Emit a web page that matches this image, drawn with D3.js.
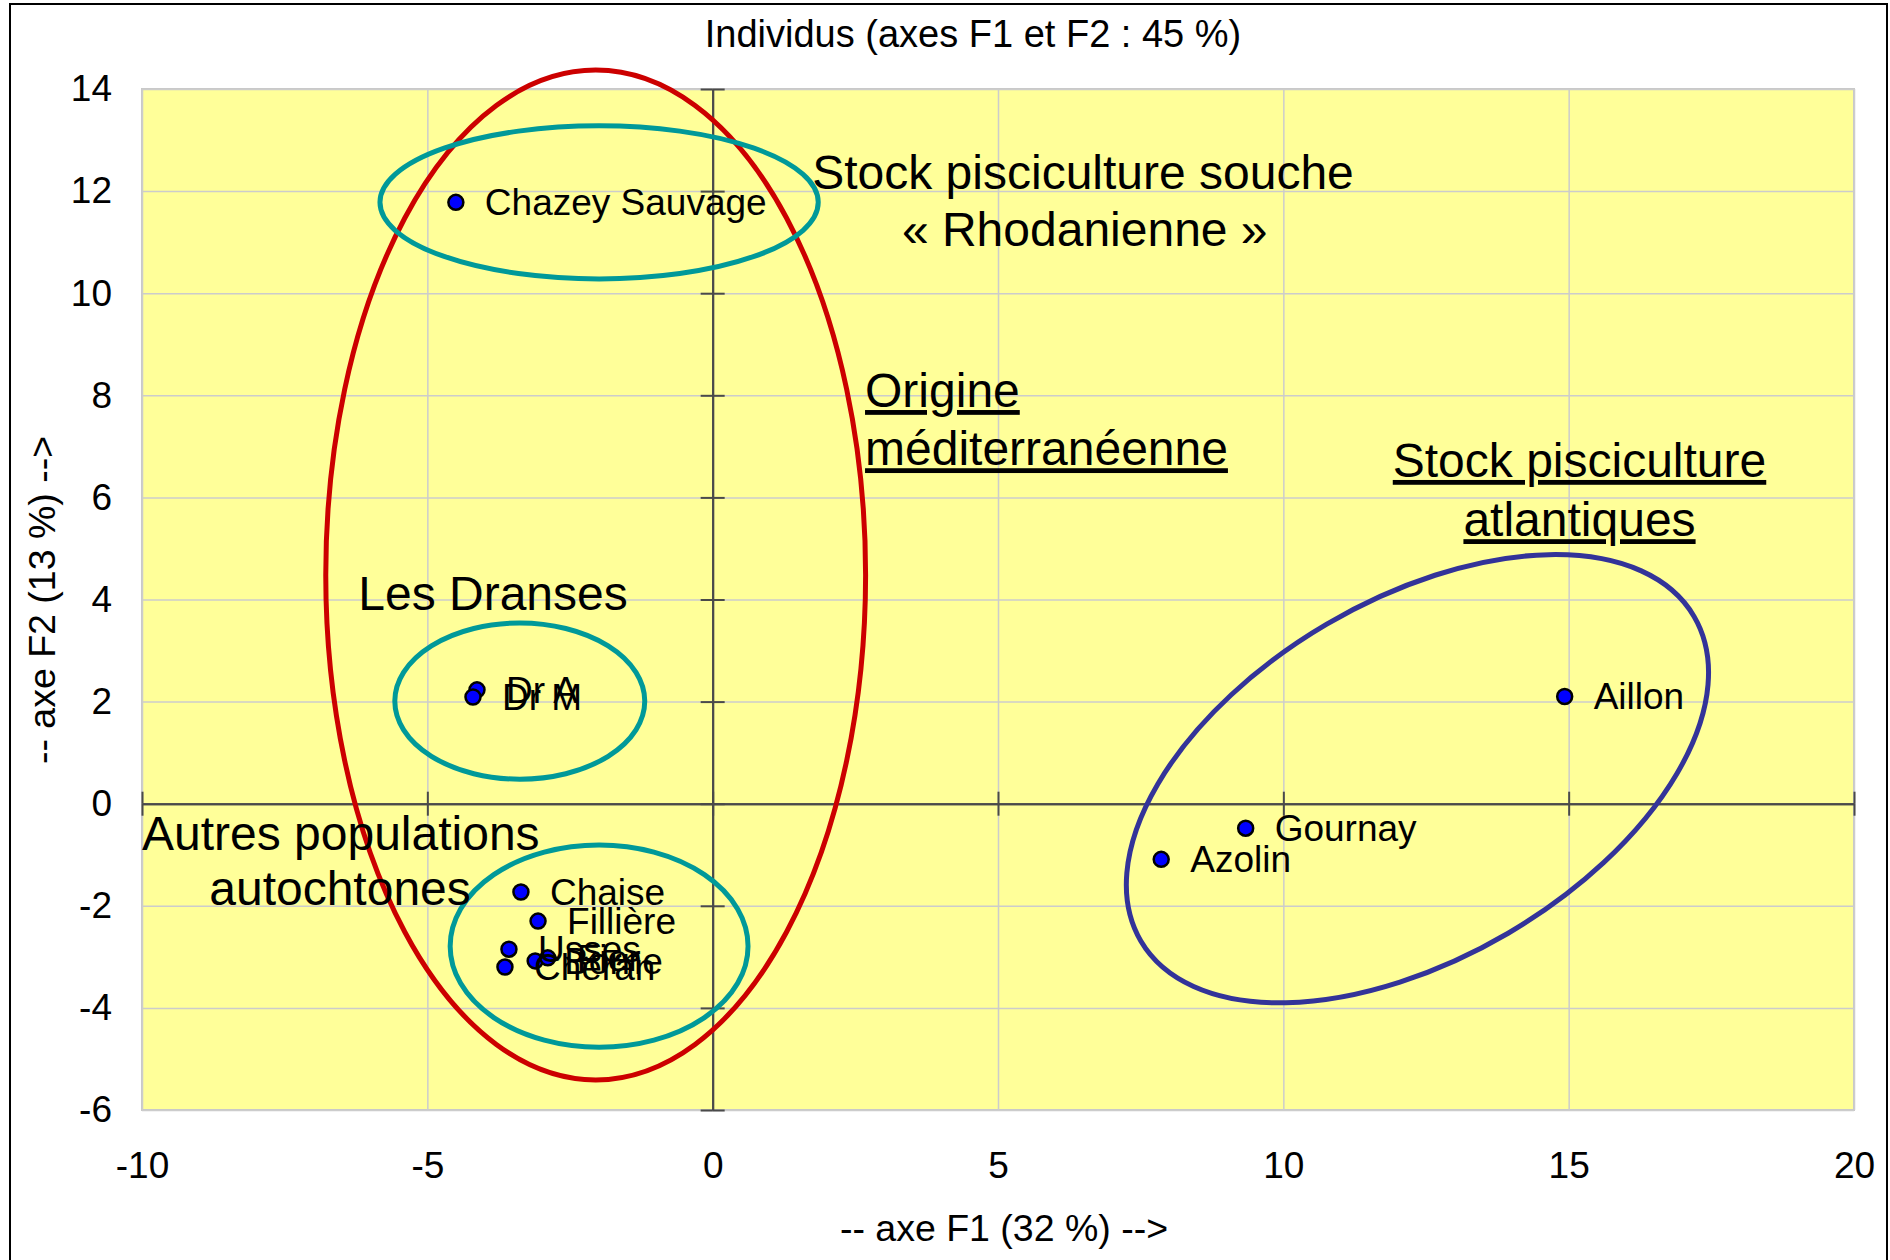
<!DOCTYPE html>
<html>
<head>
<meta charset="utf-8">
<script src="https://cdn.jsdelivr.net/npm/d3@7"></script>
<style>
  body { margin: 0; background: #fff; }
  text { font-family: "Liberation Sans", Arial, sans-serif; fill: #000; }
</style>
</head>
<body>
<svg id="chart"></svg>
<script>
// Individuals (factor scores on F1 / F2)
const names = ['Chazey Sauvage', 'Dr A', 'Dr M', 'Chaise', 'Fillière', 'Usses',
               'Borne', 'Fier', 'Chéran', 'Gournay', 'Azolin', 'Aillon'];
const f1 = [-4.50, -4.13, -4.20, -3.36, -3.06, -3.57, -3.11, -2.89, -3.64, 9.34, 7.86, 14.93];
const f2 = [11.78, 2.23, 2.09, -1.73, -2.30, -2.85, -3.08, -3.02, -3.20, -0.48, -1.09, 2.10];

const xTicks = [-10, -5, 0, 5, 10, 15, 20];
const yTicks = [-6, -4, -2, 0, 2, 4, 6, 8, 10, 12, 14];

// Hand-drawn groupings (centre and radii in axis units)
const groupCx = [-2.05, -1.99, -3.38, -1.99, 12.35];
const groupCy = [4.48, 11.78, 2.01, -2.79, 0.49];
const groupRx = [4.73, 3.84, 2.19, 2.61, 5.62];
const groupRy = [9.89, 1.50, 1.53, 1.98, 3.51];
const groupAngle = [0, 0, 0, 0, -30.4];
const groupColor = ['#cc0000', '#009999', '#009999', '#009999', '#333399'];

// Free text labels
const noteText = ['Stock pisciculture souche', '« Rhodanienne »', 'Origine', 'méditerranéenne',
                  'Stock pisciculture', 'atlantiques', 'Les Dranses', 'Autres populations', 'autochtones'];
const noteX = [6.49, 6.52, 2.67, 2.67, 15.19, 15.19, -6.21, -10, -6.53];
const noteY = [12.04, 10.92, 7.77, 6.63, 6.40, 5.24, 3.79, -0.91, -1.98];
const noteAnchor = ['middle', 'middle', 'start', 'start', 'middle', 'middle', 'start', 'start', 'middle'];
const noteUnderline = [false, false, true, true, true, true, false, false, false];

const W = 1890, H = 1260;
const plot = { left: 142, right: 1854, top: 89, bottom: 1110 };
const font = '"Liberation Sans", Arial, sans-serif';

const svg = d3.select('#chart').attr('width', W).attr('height', H);

const x = d3.scaleLinear().domain([-10, 20]).range([plot.left, plot.right]);
const y = d3.scaleLinear().domain([-6, 14]).range([plot.bottom, plot.top]);

// outer frame
svg.append('rect')
    .attr('x', 10).attr('y', 4)
    .attr('width', 1877).attr('height', 1280)
    .attr('fill', '#fff').attr('stroke', '#000').attr('stroke-width', 2);

// plot background
svg.append('rect')
    .attr('x', plot.left).attr('y', plot.top)
    .attr('width', plot.right - plot.left).attr('height', plot.bottom - plot.top)
    .attr('fill', '#ffff99').attr('stroke', '#c8c8c8').attr('stroke-width', 2);

// gridlines
const grid = svg.append('g');
grid.append('g')
    .attr('transform', `translate(0,${plot.top})`)
    .call(d3.axisBottom(x).tickValues(xTicks).tickSize(plot.bottom - plot.top).tickFormat(''))
    .call(g => g.select('.domain').remove())
    .call(g => g.selectAll('line').attr('stroke', '#cccccc').attr('stroke-width', 1.5));
grid.append('g')
    .attr('transform', `translate(${plot.left},0)`)
    .call(d3.axisRight(y).tickValues(yTicks).tickSize(plot.right - plot.left).tickFormat(''))
    .call(g => g.select('.domain').remove())
    .call(g => g.selectAll('line').attr('stroke', '#cccccc').attr('stroke-width', 1.5));

// axes crossing at the origin, with cross ticks
const axisColor = '#4a4a4a';
[d3.axisBottom, d3.axisTop].forEach(fn => {
    svg.append('g')
        .attr('transform', `translate(0,${y(0)})`)
        .call(fn(x).tickValues(xTicks).tickSize(12).tickSizeOuter(0).tickFormat(''))
        .call(g => g.selectAll('path, line').attr('stroke', axisColor).attr('stroke-width', 2));
});
[d3.axisLeft, d3.axisRight].forEach(fn => {
    svg.append('g')
        .attr('transform', `translate(${x(0)},0)`)
        .call(fn(y).tickValues(yTicks).tickSize(12).tickSizeOuter(0).tickFormat(''))
        .call(g => g.selectAll('path, line').attr('stroke', axisColor).attr('stroke-width', 2));
});

// tick labels outside the plot (plain hyphen for negatives)
svg.append('g')
    .attr('transform', `translate(0,${plot.bottom})`)
    .call(d3.axisBottom(x).tickValues(xTicks).tickSize(0).tickPadding(42).tickFormat(d => String(d)))
    .call(g => g.select('.domain').remove())
    .call(g => g.selectAll('text').attr('font-size', 37).attr('font-family', font));
svg.append('g')
    .attr('transform', `translate(${plot.left},0)`)
    .call(d3.axisLeft(y).tickValues(yTicks).tickSize(0).tickPadding(30).tickFormat(d => String(d)))
    .call(g => g.select('.domain').remove())
    .call(g => g.selectAll('text').attr('font-size', 37).attr('font-family', font));

// title and axis titles
svg.append('text')
    .attr('x', 973).attr('y', 47)
    .attr('text-anchor', 'middle').attr('font-size', 38)
    .text('Individus (axes F1 et F2 : 45 %)');
svg.append('text')
    .attr('x', 1004).attr('y', 1241)
    .attr('text-anchor', 'middle').attr('font-size', 37.5)
    .text('-- axe F1 (32 %) -->');
svg.append('text')
    .attr('transform', 'translate(55,600) rotate(-90)')
    .attr('text-anchor', 'middle').attr('font-size', 37.5)
    .text('-- axe F2 (13 %) -->');

// group ellipses
svg.append('g').selectAll('ellipse')
    .data(groupCx.map((cx, i) => ({ cx, cy: groupCy[i], rx: groupRx[i], ry: groupRy[i], a: groupAngle[i], c: groupColor[i] })))
    .enter()
    .append('ellipse')
    .attr('transform', d => `translate(${x(d.cx)},${y(d.cy)}) rotate(${d.a})`)
    .attr('rx', d => x(d.rx) - x(0))
    .attr('ry', d => y(0) - y(d.ry))
    .attr('fill', 'none')
    .attr('stroke', d => d.c)
    .attr('stroke-width', 5);

// points and labels
const pts = names.map((n, i) => ({ name: n, x: f1[i], y: f2[i] }));
const pg = svg.append('g');
pg.selectAll('circle')
    .data(pts)
    .enter()
    .append('circle')
    .attr('cx', d => x(d.x))
    .attr('cy', d => y(d.y))
    .attr('r', 7.5)
    .attr('fill', '#0000ff')
    .attr('stroke', '#000')
    .attr('stroke-width', 2.5);
pg.selectAll('text')
    .data(pts)
    .enter()
    .append('text')
    .attr('x', d => x(d.x) + 29)
    .attr('y', d => y(d.y) + 13)
    .attr('font-size', 37)
    .text(d => d.name);

// free annotations
svg.append('g').selectAll('text')
    .data(noteText.map((t, i) => ({ t, x: noteX[i], y: noteY[i], a: noteAnchor[i], u: noteUnderline[i] })))
    .enter()
    .append('text')
    .attr('x', d => x(d.x))
    .attr('y', d => y(d.y))
    .attr('text-anchor', d => d.a)
    .attr('font-size', 48)
    .style('text-decoration', d => d.u ? 'underline' : null)
    .text(d => d.t);
</script>
</body>
</html>
